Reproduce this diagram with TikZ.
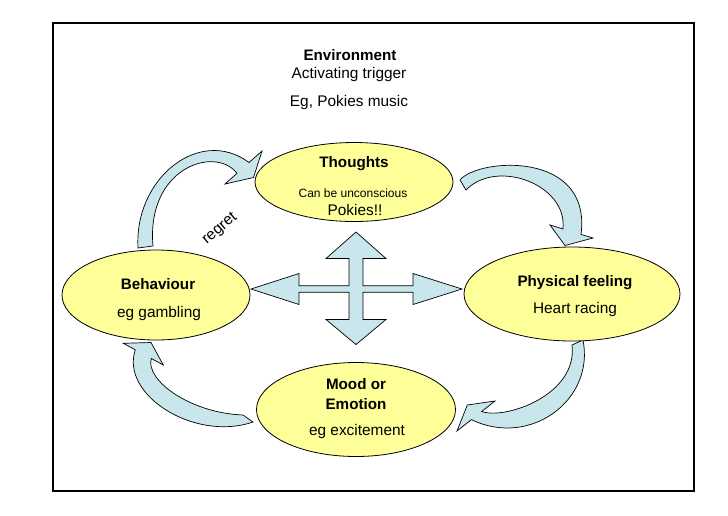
\documentclass[tikz,border=0pt]{standalone}
\usepackage{fontspec}
\setmainfont{Liberation Sans}
\usetikzlibrary{shapes.geometric}
\definecolor{ellfill}{RGB}{255,255,153}
\definecolor{arrfill}{RGB}{200,230,236}
\begin{document}
\begin{tikzpicture}[x=1pt,y=-1pt]
\tikzset{
  ell/.style={ellipse, draw=black, line width=0.8pt, fill=ellfill, inner sep=0pt},
  blk/.style={draw=black, line width=0.7pt, fill=arrfill, line join=miter},
  lbl/.style={inner sep=0pt, anchor=base, font=\fontsize{15.4}{18}\selectfont},
  lblb/.style={inner sep=0pt, anchor=base, font=\fontsize{15.2}{18}\selectfont\bfseries},
  sml/.style={inner sep=0pt, anchor=base, font=\fontsize{12}{14}\selectfont},
}
\path[use as bounding box] (0,0) rectangle (728,515);
\draw[line width=1.2pt] (53,23) rectangle (694,491);

% curved block arrows
\draw[blk] (138,248) .. controls (134,178) and (200,126) .. (249,162.5)
  -- (262,151) -- (253.5,177.5) -- (225,184) -- (237,173.3)
  .. controls (215,145) and (146,168) .. (153,246) -- cycle;
\draw[blk] (460,180) .. controls (478,158) and (592,150) .. (581,234.4)
  -- (593,238) -- (565,245.5) -- (550,225) -- (562.9,228.9)
  .. controls (568,185) and (497,158) .. (466,190) -- cycle;
\draw[blk] (583,340) .. controls (595,400) and (530,448) .. (471.4,419.6)
  -- (457,431) -- (467.3,405) -- (495,401) -- (481.7,411.5)
  .. controls (505,420) and (578,395) .. (572,345) -- cycle;
\draw[blk] (253,422) .. controls (195,442) and (120,395) .. (135.3,349.8)
  -- (123.3,343.3) -- (151,342.5) -- (163.3,365) -- (151.3,358.5)
  .. controls (145,380) and (190,413) .. (243,415) -- cycle;

% four-way arrow
\draw[blk] (356,232) -- (386,258.5) -- (363,258.5) -- (363,285.7) -- (413,285.7)
  -- (413,273.5) -- (462,289) -- (413,304.5) -- (413,292.3) -- (363,292.3)
  -- (363,319.5) -- (386,319.5) -- (356,344.5) -- (326,319.5) -- (349,319.5)
  -- (349,292.3) -- (299,292.3) -- (299,304.5) -- (251,289) -- (299,273.5)
  -- (299,285.7) -- (349,285.7) -- (349,258.5) -- (326,258.5) -- cycle;

% ellipses
\node[ell, minimum width=198pt, minimum height=79pt] (thoughts) at (354,182) {};
\node[ell, minimum width=188pt, minimum height=90pt] (behav) at (156,295) {};
\node[ell, minimum width=216pt, minimum height=94pt] (phys) at (572,294) {};
\node[ell, minimum width=199pt, minimum height=94pt] (mood) at (356,409.5) {};

% texts
\node[lblb] (envt) at (350,60) {Environment};
\node[lbl] (envtrig) at (349,78.3) {Activating trigger};
\node[lbl] (envex) at (349,106.5) {Eg, Pokies music};

\node[lblb] (tht) at (354,167) {Thoughts};
\node[sml] (thc) at (353,197) {Can be unconscious};
\node[lbl] (thp) at (355,215) {Pokies!!};

\node[lblb] (beht) at (158,289) {Behaviour};
\node[lbl] (behx) at (159,317) {eg gambling};

\node[lblb] (phyt) at (575,286) {Physical feeling};
\node[lbl] (phyx) at (575,313) {Heart racing};

\node[lblb] (moodt) at (356,389) {Mood or};
\node[lblb] (moode) at (356,409) {Emotion};
\node[lbl] (moodx) at (357,435) {eg excitement};

\node[lbl, anchor=center, rotate=40] (regret) at (220,229) {regret};
\end{tikzpicture}
\end{document}
